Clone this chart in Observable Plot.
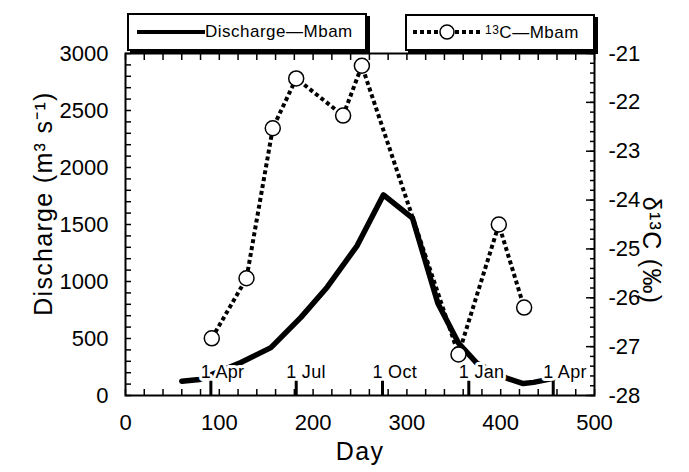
<!DOCTYPE html>
<html>
<head>
<meta charset="utf-8">
<script src="https://cdn.jsdelivr.net/npm/d3@7"></script>
<script src="https://cdn.jsdelivr.net/npm/@observablehq/plot@0.6"></script>
<style>
  html, body { margin: 0; padding: 0; background: #fff; }
  #wrap { position: relative; width: 689px; height: 472px; font-family: "Liberation Sans", Arial, sans-serif; color: #000; }
  #wrap svg.plot { position: absolute; left: 0; top: 0; }
  #wrap svg .ttl text { letter-spacing: 1.3px; }
  #wrap svg .mon text { letter-spacing: 0.3px; }
  .leg { position: absolute; background: #fff; border: 2px solid #000; box-shadow: 3px 3px 0 #000; box-sizing: border-box; }
  .leg svg { position: absolute; top: 0; }
  .leg span { position: absolute; font-size: 17px; letter-spacing: 0.5px; white-space: nowrap; line-height: 1; }
  .leg sup { font-size: 12px; vertical-align: 0; position: relative; top: -4px; }
</style>
</head>
<body>
<div id="wrap"></div>
<script>
// ---- data ----
const dischargeDay = [60, 79, 123, 155, 187, 215, 247, 275, 306, 333, 355, 375, 407, 424, 435, 456];
const dischargeVal = [125, 140, 290, 420, 685, 950, 1315, 1760, 1555, 810, 460, 280, 150, 105, 115, 150];
const c13Day = [92, 129, 157, 182, 232, 252, 355, 398, 425];
const c13Val = [-26.83, -25.6, -22.53, -21.51, -22.27, -21.25, -27.16, -24.5, -26.2];
const monthDay = [91, 182, 274, 366, 456];
const monthLabel = ["1 Apr", "1 Jul", "1 Oct", "1 Jan", "1 Apr"];
const xTicks = [0, 100, 200, 300, 400, 500];
const leftTicks = [0, 500, 1000, 1500, 2000, 2500, 3000];
const rightTicks = [-28, -27, -26, -25, -24, -23, -22, -21];
const legendLabels = ["Discharge\u2014Mbam", "C\u2014Mbam"];

// right axis (δ13C, -28..-21) mapped onto the discharge scale (0..3000)
const rMin = -28, rMax = -21, qMax = 3000;
const toY = d => (d - rMin) * qMax / (rMax - rMin);
const fromY = y => Math.round(y * (rMax - rMin) / qMax + rMin);

const dis = dischargeDay.map((d, i) => ({day: d, q: dischargeVal[i]}));
const c13 = c13Day.map((d, i) => ({day: d, v: c13Val[i], yy: toY(c13Val[i])}));
const months = monthDay.map((d, i) => ({day: d, label: monthLabel[i]}));
const rightMinor = d3.range(rMin * 5, rMax * 5 + 1).map(k => k / 5);

const chart = Plot.plot({
  width: 689,
  height: 472,
  marginLeft: 125,
  marginRight: 95,
  marginTop: 53,
  marginBottom: 77,
  x: {domain: [0, 500]},
  y: {domain: [0, qMax]},
  style: {fontFamily: "'Liberation Sans', Arial, sans-serif", fontSize: "22px", color: "#000", background: "transparent", overflow: "visible"},
  marks: [
    // inward minor ticks
    Plot.axisX(d3.range(0, 501, 20), {anchor: "bottom", tickSize: -6, text: null, label: null, strokeWidth: 1.5}),
    Plot.axisX(d3.range(0, 501, 20), {anchor: "top", tickSize: -6, text: null, label: null, strokeWidth: 1.5}),
    Plot.axisY(d3.range(0, qMax + 1, 100), {anchor: "left", tickSize: -6, text: null, label: null, strokeWidth: 1.5}),
    Plot.axisY(rightMinor.map(toY), {anchor: "right", tickSize: -5, text: null, label: null, strokeWidth: 1.5}),
    Plot.axisY(rightTicks.map(toY), {anchor: "right", tickSize: -9, text: null, label: null, strokeWidth: 1.5}),
    // tick labels
    Plot.axisX(xTicks, {anchor: "bottom", tickSize: 0, tickPadding: 19, label: null, fontSize: 22, tickFormat: "d"}),
    Plot.axisY(leftTicks, {anchor: "left", tickSize: 0, tickPadding: 17, label: null, fontSize: 22, tickFormat: "d"}),
    Plot.axisY(rightTicks.map(toY), {anchor: "right", tickSize: 0, tickPadding: 14, label: null, fontSize: 22, tickFormat: y => String(fromY(y))}),
    // series
    Plot.line(dis, {x: "day", y: "q", stroke: "black", strokeWidth: 5.5, strokeLinejoin: "round"}),
    Plot.line(c13, {x: "day", y: "yy", stroke: "black", strokeWidth: 4, strokeDasharray: "4,3", strokeLinecap: "butt", strokeLinejoin: "miter"}),
    // month labels (white halo hides the line behind them)
    Plot.text(months, {x: "day", text: "label", frameAnchor: "bottom", textAnchor: "start", lineAnchor: "bottom", dx: -10, dy: -18, fontSize: 18, fill: "black", stroke: "white", strokeWidth: 6, className: "mon"}),
    Plot.ruleX(months, {x: "day", y1: 0, y2: 125, stroke: "black", strokeWidth: 3}),
    Plot.dot(c13, {x: "day", y: "yy", r: 7.5, fill: "white", stroke: "black", strokeWidth: 1.5}),
    Plot.frame({stroke: "black", strokeWidth: 2}),
    // axis titles
    Plot.text(["Discharge (m\u00b3 s\u207b\u00b9)"], {frameAnchor: "left", textAnchor: "middle", rotate: -90, dx: -82, dy: -21, fontSize: 25, fill: "black", className: "ttl"}),
    Plot.text(["\u03b4\u00b9\u00b3C (\u2030)"], {frameAnchor: "right", textAnchor: "middle", rotate: 90, dx: 56, dy: 26, fontSize: 25, fill: "black", className: "ttl"}),
    Plot.text(["Day"], {frameAnchor: "bottom", textAnchor: "middle", dy: 64, fontSize: 25, fill: "black", className: "ttl"})
  ]
});
chart.classList.add("plot");
const wrap = document.getElementById("wrap");
wrap.appendChild(chart);

// ---- legend boxes above the plot ----
function legendBox(left, top, w, h) {
  const b = document.createElement("div");
  b.className = "leg";
  b.style.left = left + "px"; b.style.top = top + "px";
  b.style.width = w + "px"; b.style.height = h + "px";
  wrap.appendChild(b);
  return b;
}
const ns = "http://www.w3.org/2000/svg";
// box 1: discharge
const b1 = legendBox(127, 13, 240, 38);
{
  const s = document.createElementNS(ns, "svg");
  s.setAttribute("width", 70); s.setAttribute("height", 34);
  s.style.left = "8px";
  const l = document.createElementNS(ns, "line");
  l.setAttribute("x1", 0); l.setAttribute("x2", 68); l.setAttribute("y1", 17); l.setAttribute("y2", 17);
  l.setAttribute("stroke", "black"); l.setAttribute("stroke-width", 4);
  s.appendChild(l); b1.appendChild(s);
  const t = document.createElement("span");
  t.textContent = legendLabels[0];
  t.style.left = "76px"; t.style.top = "8px";
  b1.appendChild(t);
}
// box 2: δ13C
const b2 = legendBox(405, 14, 190, 37);
{
  const s = document.createElementNS(ns, "svg");
  s.setAttribute("width", 70); s.setAttribute("height", 33);
  s.style.left = "6px";
  const l = document.createElementNS(ns, "line");
  l.setAttribute("x1", 0); l.setAttribute("x2", 68); l.setAttribute("y1", 16); l.setAttribute("y2", 16);
  l.setAttribute("stroke", "black"); l.setAttribute("stroke-width", 4); l.setAttribute("stroke-dasharray", "4,3");
  s.appendChild(l);
  const c = document.createElementNS(ns, "circle");
  c.setAttribute("cx", 34); c.setAttribute("cy", 16); c.setAttribute("r", 7);
  c.setAttribute("fill", "white"); c.setAttribute("stroke", "black"); c.setAttribute("stroke-width", 1.5);
  s.appendChild(c); b2.appendChild(s);
  const t = document.createElement("span");
  t.innerHTML = "<sup>13</sup>" + legendLabels[1];
  t.style.left = "78px"; t.style.top = "8px";
  b2.appendChild(t);
}
</script>
</body>
</html>
